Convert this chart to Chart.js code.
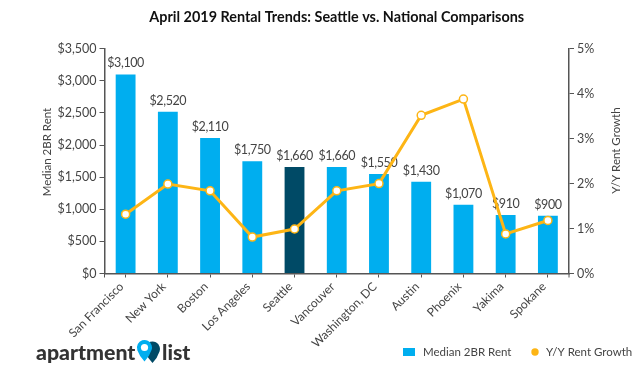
<!DOCTYPE html>
<html>
<head>
<meta charset="utf-8">
<title>April 2019 Rental Trends</title>
<script src="https://cdn.jsdelivr.net/npm/chart.js@4"></script>
<style>
  html, body { margin: 0; padding: 0; background: #fff; }
  canvas { display: block; }
</style>
</head>
<body>
<canvas id="rentChart" width="640" height="374"></canvas>
<script>
var cities = ["San Francisco", "New York", "Boston", "Los Angeles", "Seattle", "Vancouver", "Washington, DC", "Austin", "Phoenix", "Yakima", "Spokane"];
var medianRent = [3100, 2520, 2110, 1750, 1660, 1660, 1550, 1430, 1070, 910, 900];
var rentGrowth = [1.32, 1.99, 1.84, 0.81, 0.99, 1.84, 2.0, 3.52, 3.88, 0.88, 1.18];

var BLUE = "#00AEEF";
var DARK = "#004A66";
var GOLD = "#FDB515";
var TEXT = "#444444";
var AXIS = "#555555";
var FONT = "Lato, sans-serif";

var barColors = cities.map(function(c) {
    return c === "Seattle" ? DARK : BLUE;
});

// dollar labels sit above the bars but under the line
var barLabels = {
    id: "barLabels",
    afterDatasetDraw: function(chart, args) {
        if (args.index !== 0) return;
        var ctx = chart.ctx;
        ctx.save();
        ctx.font = "12.5px " + FONT;
        ctx.letterSpacing = "-0.4px";
        ctx.fillStyle = TEXT;
        ctx.textAlign = "center";
        ctx.textBaseline = "alphabetic";
        args.meta.data.forEach(function(bar, i) {
            ctx.fillText("$" + medianRent[i].toLocaleString("en-US"), bar.x, bar.y - 7);
        });
        ctx.restore();
    }
};

function sideTitle(ctx, text, x, y) {
    ctx.save();
    ctx.translate(x, y);
    ctx.rotate(-Math.PI / 2);
    ctx.font = "11.5px " + FONT;
    ctx.fillStyle = TEXT;
    ctx.textAlign = "center";
    ctx.textBaseline = "middle";
    ctx.fillText(text, 0, 0);
    ctx.restore();
}

var extras = {
    id: "extras",
    afterDraw: function(chart) {
        var ctx = chart.ctx;
        var x = chart.scales.x;

        // end ticks of the category axis
        ctx.save();
        ctx.strokeStyle = AXIS;
        ctx.lineWidth = 1;
        [x.left, x.right].forEach(function(px) {
            ctx.beginPath();
            ctx.moveTo(px, x.top);
            ctx.lineTo(px, x.top + 4);
            ctx.stroke();
        });
        ctx.restore();

        sideTitle(ctx, "Median 2BR Rent", 47, 152);
        sideTitle(ctx, "Y/Y Rent Growth", 616, 150.5);

        // legend, drawn here because the long rotated labels need the space beside it
        ctx.save();
        ctx.font = "11.5px " + FONT;
        ctx.textBaseline = "middle";
        ctx.textAlign = "left";
        ctx.fillStyle = BLUE;
        ctx.fillRect(403, 348, 12, 8);
        ctx.fillStyle = GOLD;
        ctx.beginPath();
        ctx.arc(535, 352, 3.7, 0, Math.PI * 2);
        ctx.fill();
        ctx.fillStyle = TEXT;
        ctx.fillText("Median 2BR Rent", 423, 352);
        ctx.fillText("Y/Y Rent Growth", 546, 352);
        ctx.restore();

        // logo
        ctx.save();
        ctx.font = "900 21.3px " + FONT;
        ctx.fillStyle = "#333333";
        ctx.textBaseline = "alphabetic";
        ctx.textAlign = "left";
        ctx.fillText("apartment", 36, 360);
        ctx.fillText("list", 162, 360);
        drawPin(ctx, 152.5, 349, DARK);
        drawPin(ctx, 144.5, 347.5, BLUE);
        ctx.fillStyle = "#ffffff";
        ctx.beginPath();
        ctx.arc(144.5, 347.5, 3.6, 0, Math.PI * 2);
        ctx.fill();
        ctx.restore();
    }
};

function drawPin(ctx, cx, cy, color) {
    ctx.fillStyle = color;
    ctx.beginPath();
    ctx.arc(cx, cy, 7.5, Math.PI * 0.9, Math.PI * 0.1);
    ctx.quadraticCurveTo(cx + 5, cy + 9, cx, cy + 14);
    ctx.quadraticCurveTo(cx - 5, cy + 9, cx - 7.4, cy + 2.3);
    ctx.fill();
}

new Chart(document.getElementById("rentChart"), {
    data: {
        labels: cities,
        datasets: [{
            type: "bar",
            label: "Median 2BR Rent",
            data: medianRent,
            backgroundColor: barColors,
            yAxisID: "y",
            order: 1,
            barPercentage: 0.47,
            categoryPercentage: 1
        }, {
            type: "line",
            label: "Y/Y Rent Growth",
            data: rentGrowth,
            yAxisID: "y1",
            order: 0,
            borderColor: GOLD,
            borderWidth: 3,
            tension: 0,
            pointRadius: 4,
            pointBackgroundColor: "#ffffff",
            pointBorderColor: GOLD,
            pointBorderWidth: 1.5
        }]
    },
    options: {
        responsive: false,
        animation: false,
        layout: { padding: 0 },
        plugins: {
            tooltip: { enabled: false },
            legend: { display: false },
            title: {
                display: true,
                text: "April 2019 Rental Trends: Seattle vs. National Comparisons",
                fullSize: false,
                color: "#111111",
                font: { family: FONT, size: 14.4, weight: "bold" },
                padding: { top: 9, bottom: 22.5 }
            }
        },
        scales: {
            x: {
                offset: true,
                afterFit: function(axis) { axis.height = 100.5; },
                border: { color: AXIS, width: 1.5 },
                grid: { drawOnChartArea: false, color: AXIS, tickLength: 4, offset: false },
                ticks: {
                    autoSkip: false,
                    minRotation: 45,
                    maxRotation: 45,
                    color: TEXT,
                    padding: 2,
                    labelOffset: -4,
                    font: { family: FONT, size: 12 }
                }
            },
            y: {
                position: "left",
                min: 0,
                max: 3500,
                afterFit: function(axis) { axis.width = 104.5; },
                border: { color: AXIS, width: 1.5 },
                grid: { drawOnChartArea: false, color: AXIS, tickLength: 5 },
                ticks: {
                    stepSize: 500,
                    color: TEXT,
                    padding: 3,
                    font: { family: FONT, size: 12.5 },
                    callback: function(v) { return "$" + v.toLocaleString("en-US"); }
                }
            },
            y1: {
                position: "right",
                min: 0,
                max: 5,
                afterFit: function(axis) { axis.width = 71; },
                border: { color: AXIS, width: 1.5 },
                grid: { drawOnChartArea: false, color: AXIS, tickLength: 5 },
                ticks: {
                    stepSize: 1,
                    color: TEXT,
                    padding: 3,
                    font: { family: FONT, size: 12.5 },
                    callback: function(v) { return v + "%"; }
                }
            }
        }
    },
    plugins: [barLabels, extras]
});
</script>
</body>
</html>
